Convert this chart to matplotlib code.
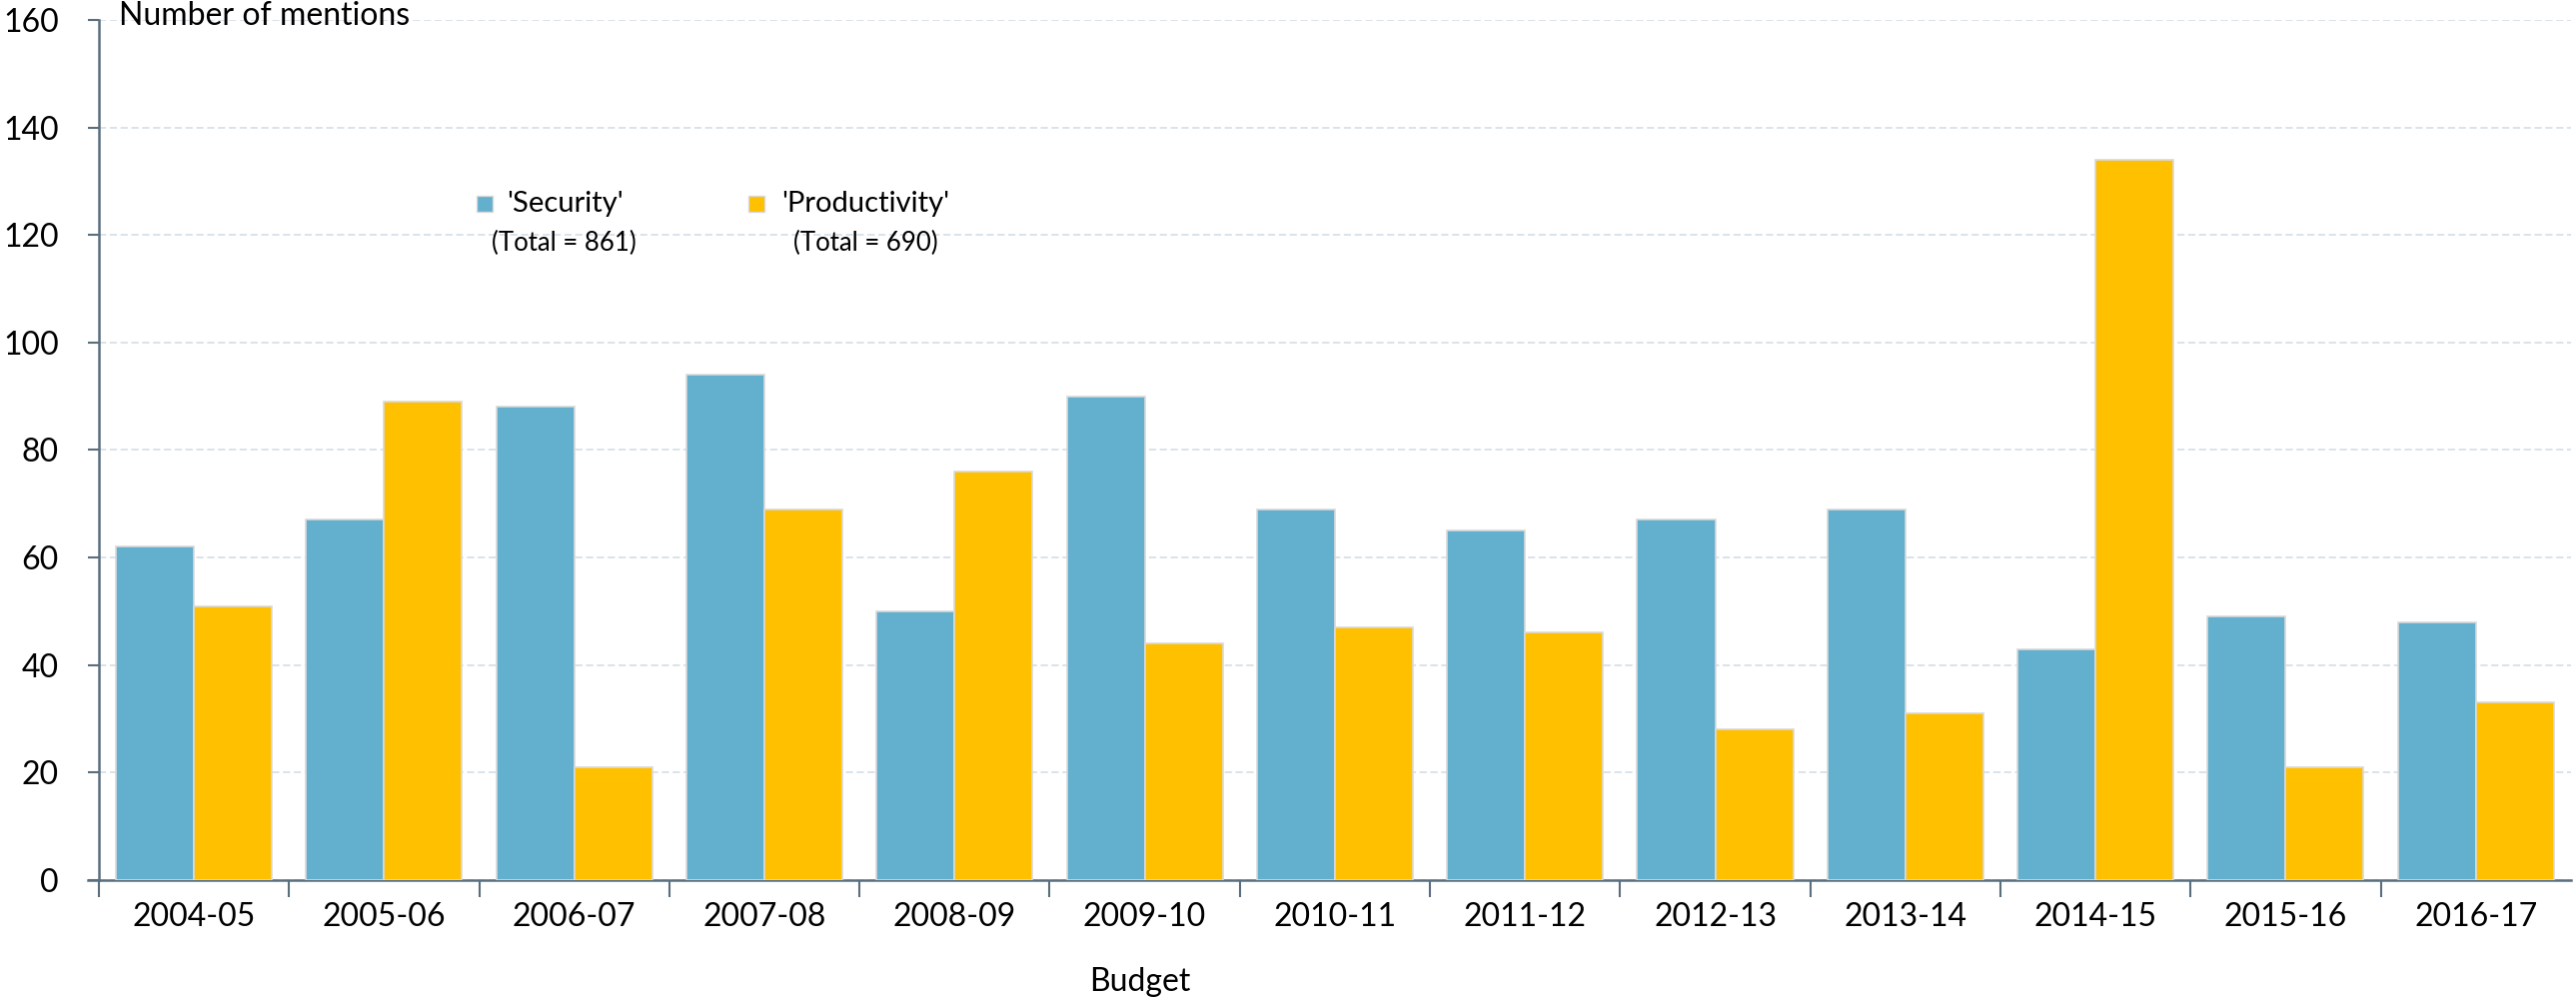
import numpy as np
import matplotlib
matplotlib.use("Agg")
import matplotlib.pyplot as plt
from matplotlib.patches import Rectangle

# === DATA ===
budgets = ["2004-05", "2005-06", "2006-07", "2007-08", "2008-09", "2009-10", "2010-11",
           "2011-12", "2012-13", "2013-14", "2014-15", "2015-16", "2016-17"]
security = [62, 67, 88, 94, 50, 90, 69, 65, 67, 69, 43, 49, 48]
productivity = [51, 89, 21, 69, 76, 44, 47, 46, 28, 31, 134, 21, 33]
series_names = ["'Security'", "'Productivity'"]
y_ticks = [0, 20, 40, 60, 80, 100, 120, 140, 160]

# === STYLE ===
BLUE = "#62AFCE"
GOLD = "#FFC000"
AXIS = "#5A6E7E"
GRID = "#D8E0E8"
plt.rcParams["font.family"] = ["Lato", "DejaVu Sans"]

fig = plt.figure(figsize=(25.78, 10), dpi=100)
ax = fig.add_axes([0.0384, 0.119, 0.9596, 0.861])

x = np.arange(len(budgets))
w = 0.41
ax.bar(x - w / 2, security, w, color=BLUE, edgecolor="#D9D9D9", linewidth=1.2, zorder=3)
ax.bar(x + w / 2, productivity, w, color=GOLD, edgecolor="#D9D9D9", linewidth=1.2, zorder=3)

ax.set_xlim(-0.5, len(budgets) - 0.5)
ax.set_ylim(0, 160)
ax.set_yticks(y_ticks)
ax.yaxis.grid(True, color=GRID, linestyle=(0, (4, 2)), linewidth=1.3, zorder=0)

# category labels centred, ticks at boundaries
ax.set_xticks(x)
ax.set_xticklabels(budgets, fontsize=23)
ax.set_xticks(np.arange(len(budgets)) - 0.5, minor=True)
ax.tick_params(axis="x", which="major", length=0, pad=16)
ax.tick_params(axis="x", which="minor", length=12, width=1.5, color=AXIS)
ax.tick_params(axis="y", length=8, width=1.5, color=AXIS, labelsize=23, pad=21)

for side in ["top", "right"]:
    ax.spines[side].set_visible(False)
for side in ["left", "bottom"]:
    ax.spines[side].set_color(AXIS)
    ax.spines[side].set_linewidth(1.8)
# small stub of the x axis left of the y axis
ax.plot([-0.0045, 0], [0, 0], transform=ax.transAxes, color=AXIS, linewidth=1.8,
        clip_on=False, zorder=4)

fig.text(0.4426, 0.017, "Budget", fontsize=23, va="center", ha="center")
fig.text(0.046, 0.984, "Number of mentions", fontsize=23, va="center", ha="left")

# === LEGEND (manual) ===
legend_items = [(0.156, 0.165, 0.188, "(Total = 861)", BLUE),
                (0.266, 0.276, 0.310, "(Total = 690)", GOLD)]
for (mx, tx, cx, total, col), name in zip(legend_items, series_names):
    sq_w = 16 / 2474
    sq_h = 16 / 861
    ax.add_patch(Rectangle((mx - sq_w / 2, 0.786 - sq_h / 2), sq_w, sq_h, transform=ax.transAxes,
                           facecolor=col, edgecolor="#D9D9D9", linewidth=1, zorder=5))
    ax.text(tx, 0.786, name, transform=ax.transAxes, fontsize=21, va="center", ha="left")
    ax.text(cx, 0.741, total, transform=ax.transAxes, fontsize=18.5, va="center", ha="center")

fig.savefig("out.png", dpi=100, facecolor="white")
